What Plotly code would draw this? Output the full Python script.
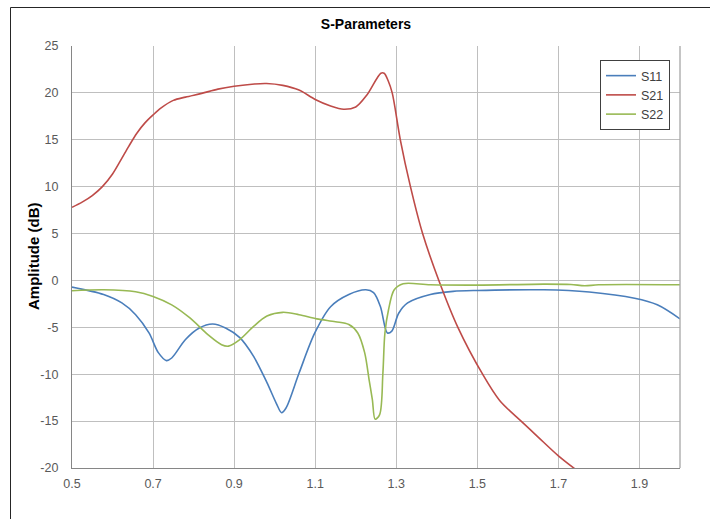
import plotly.graph_objects as go

# S21 (red)
s21_f = [0.50, 0.525, 0.55, 0.575, 0.60, 0.62, 0.64, 0.66, 0.68, 0.70, 0.72, 0.75, 0.78, 0.82, 0.86,
         0.90, 0.95, 0.98, 1.02, 1.06, 1.10, 1.138, 1.17, 1.20, 1.228, 1.262, 1.27, 1.28, 1.29, 1.31,
         1.335, 1.365, 1.405, 1.452, 1.513, 1.555, 1.608, 1.65, 1.70, 1.75]
s21_db = [7.8, 8.35, 9.05, 10.0, 11.35, 12.8, 14.3, 15.7, 16.8, 17.65, 18.4, 19.2, 19.55, 19.95, 20.4,
          20.7, 20.95, 21.0, 20.8, 20.3, 19.3, 18.6, 18.25, 18.5, 19.8, 22.1, 22.1, 21.3, 20.0, 15.0,
          10.0, 5.0, 0.0, -5.0, -10.0, -12.8, -15.0, -16.7, -18.7, -20.4]

# S11 (blue)
s11_f = [0.50, 0.578, 0.623, 0.657, 0.69, 0.713, 0.733, 0.746, 0.78, 0.813, 0.847, 0.88, 0.914, 0.948,
         0.981, 1.004, 1.017, 1.028, 1.06, 1.099, 1.138, 1.183, 1.225, 1.244, 1.261, 1.278, 1.289, 1.306,
         1.328, 1.384, 1.44, 1.50, 1.664, 1.776, 1.888, 1.944, 2.0]
s11_db = [-0.71, -1.5, -2.4, -3.65, -5.6, -7.7, -8.55, -8.27, -6.3, -5.1, -4.65, -5.1, -6.1, -8.1,
          -10.9, -13.1, -14.1, -13.6, -9.9, -5.6, -2.8, -1.5, -1.0, -1.3, -2.8, -5.6, -5.4, -3.5,
          -2.4, -1.5, -1.17, -1.07, -1.0, -1.24, -1.9, -2.6, -4.1]

# S22 (green)
s22_f = [0.50, 0.578, 0.657, 0.70, 0.746, 0.791, 0.836, 0.869, 0.886, 0.914, 0.948, 0.981, 1.02, 1.06,
         1.104, 1.15, 1.183, 1.205, 1.222, 1.233, 1.241, 1.248, 1.259, 1.267, 1.272, 1.281, 1.295, 1.317,
         1.384, 1.50, 1.664, 1.731, 1.765, 1.799, 2.0]
s22_db = [-1.1, -1.0, -1.2, -1.7, -2.6, -4.0, -5.8, -6.85, -7.0, -6.3, -4.9, -3.8, -3.4, -3.65,
          -4.1, -4.4, -4.7, -5.6, -7.7, -10.6, -12.7, -14.8, -14.3, -9.9, -5.6, -3.1, -1.0, -0.35,
          -0.46, -0.5, -0.39, -0.43, -0.57, -0.46, -0.46]

x_ticks = [0.5, 0.7, 0.9, 1.1, 1.3, 1.5, 1.7, 1.9]
y_ticks = [25, 20, 15, 10, 5, 0, -5, -10, -15, -20]

font_tick = "Liberation Sans Narrow, Arial Narrow, Liberation Sans, Arial, sans-serif"
font_main = "Liberation Sans, Arial, sans-serif"

fig = go.Figure()
for name, fx, fy, col in [("S11", s11_f, s11_db, "#4a7ebb"),
                          ("S21", s21_f, s21_db, "#be4b48"),
                          ("S22", s22_f, s22_db, "#98b954")]:
    fig.add_trace(go.Scatter(x=fx, y=fy, mode="lines", name=name,
                             line=dict(color=col, width=1.6, shape="spline", smoothing=0.9)))

fig.update_layout(
    width=710, height=519,
    margin=dict(l=72, r=30, t=46, b=51),
    paper_bgcolor="white", plot_bgcolor="white",
    title=dict(text="<b>S-Parameters</b>", x=(366 - 72) / 608, xref="paper", xanchor="center",
               y=1 - 24 / 519, yanchor="middle",
               font=dict(family=font_main, size=14, color="#000000")),
    showlegend=True,
    legend=dict(x=(600 - 72) / 608, y=(468 - 60) / 422, xanchor="left", yanchor="top",
                bgcolor="white", bordercolor="#404040", borderwidth=1,
                font=dict(family=font_tick, size=12.5, color="#404040"),
                tracegroupgap=0, itemwidth=30),
)
fig.update_xaxes(range=[0.5, 2.0], tickvals=x_ticks, ticktext=[f"{v:.1f}" for v in x_ticks],
                 showgrid=True, gridcolor="#bfbfbf", gridwidth=1.3,
                 showline=True, linecolor="#868686", linewidth=1.3, mirror=False,
                 zeroline=False, ticks="", ticklen=0, ticklabelstandoff=4,
                 tickfont=dict(family=font_tick, size=12.5, color="#595959"))
fig.update_yaxes(range=[-20, 25], tickvals=y_ticks, ticktext=[str(v) for v in y_ticks],
                 showgrid=True, gridcolor="#bfbfbf", gridwidth=1.3,
                 showline=True, linecolor="#868686", linewidth=1.3, mirror=False,
                 zeroline=False, ticks="", ticklen=0, ticklabelstandoff=10,
                 tickfont=dict(family=font_tick, size=12.5, color="#595959"))

# y-axis title
fig.add_annotation(text="<b>Amplitude (dB)</b>", xref="paper", yref="paper",
                   x=(33 - 72) / 608, y=(468 - 257) / 422, textangle=-90,
                   xanchor="center", yanchor="middle", showarrow=False,
                   font=dict(family=font_main, size=15, color="#000000"))

# plot area right border
fig.add_shape(type="line", xref="paper", yref="paper", x0=1, x1=1, y0=0, y1=1,
              line=dict(color="#a6a6a6", width=1.3))
# outer chart frame
fig.add_shape(type="rect", xref="paper", yref="paper",
              x0=(10.5 - 72) / 608, x1=(730 - 72) / 608,
              y0=(468 - 540) / 422, y1=(468 - 7.5) / 422,
              line=dict(color="#262626", width=1), fillcolor="rgba(0,0,0,0)", layer="below")

fig.write_html("out.html", post_script="document.body.style.margin='0';",
               config={"displayModeBar": False})
